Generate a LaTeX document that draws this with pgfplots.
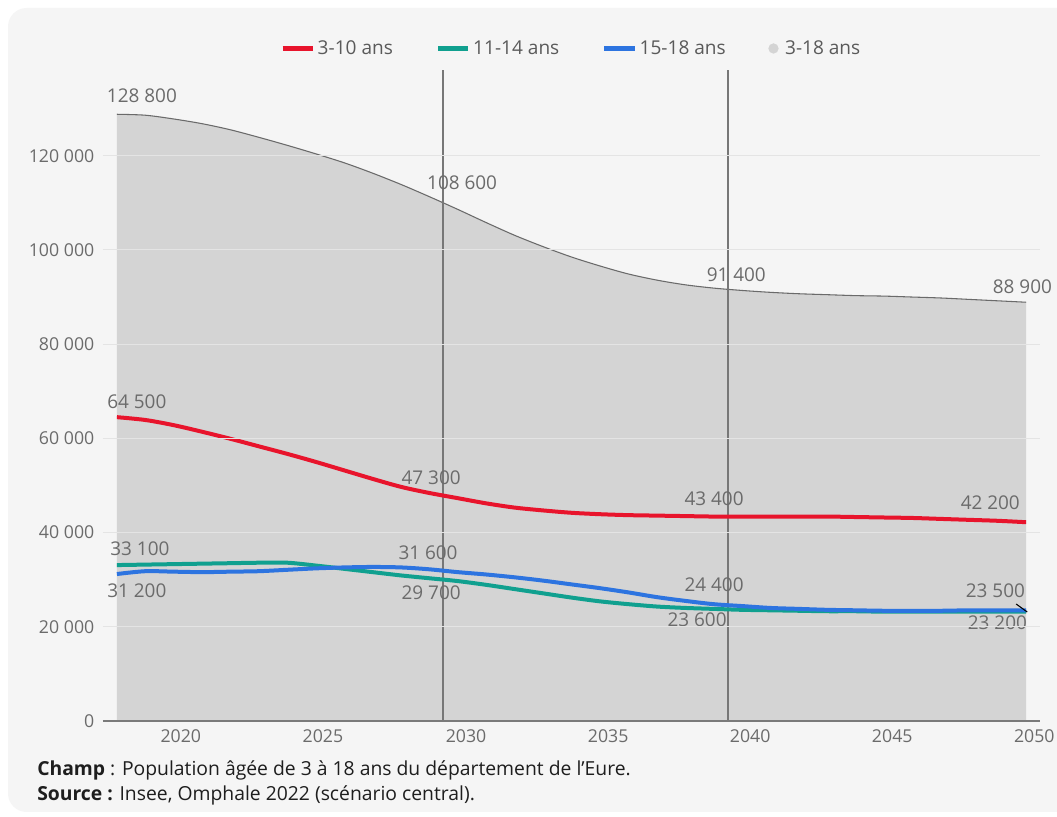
\documentclass[border=0pt]{standalone}
\usepackage{pgfplots}
\pgfplotsset{compat=1.18}
\usepackage{pgfplotstable}
\usepackage{fontspec}
\setmainfont{Open Sans}
\definecolor{redc}{HTML}{E8142C}
\definecolor{tealc}{HTML}{10A08F}
\definecolor{bluec}{HTML}{2D74E0}
\definecolor{areac}{HTML}{D4D4D4}
\definecolor{areaedge}{HTML}{6A6A6A}
\definecolor{panel}{HTML}{F5F5F5}
\definecolor{gridc}{HTML}{E4E4E4}
\definecolor{labc}{HTML}{6B6B6B}
\definecolor{legc}{HTML}{5A5A5A}
\definecolor{axisc}{HTML}{7A7A7A}
\definecolor{vlinec}{HTML}{777777}
\definecolor{footc}{HTML}{1E1E1E}

\pgfplotstableread{
year total r t b
2018 128800 64500 33100 31200
2019 128600 63900 33200 31800
2020 127800 62800 33300 31700
2021 126800 61400 33400 31600
2022 125500 59900 33500 31700
2023 123900 58300 33600 31800
2024 122200 56700 33600 32100
2025 120400 55000 33000 32400
2026 118500 53200 32300 32600
2027 116300 51400 31600 32700
2028 113900 49700 30900 32600
2029 111300 48400 30300 32200
2030 108600 47300 29700 31600
2031 105800 46200 28900 31100
2032 103100 45300 28000 30500
2033 100700 44700 27100 29800
2034 98500 44200 26200 29000
2035 96600 43900 25400 28200
2036 94900 43700 24800 27300
2037 93600 43600 24300 26300
2038 92600 43500 24000 25500
2039 91900 43400 23800 24800
2040 91400 43400 23600 24400
2041 91000 43400 23500 24000
2042 90700 43400 23400 23800
2043 90500 43400 23300 23600
2044 90300 43300 23300 23500
2045 90200 43200 23200 23400
2046 90000 43100 23200 23400
2047 89800 42900 23200 23400
2048 89500 42700 23200 23500
2049 89200 42500 23200 23500
2050 88900 42200 23200 23500
}\datatable

\begin{document}
\begin{tikzpicture}
\useasboundingbox (0,0) rectangle (792.75pt,612.75pt);
\fill[white] (0,0) rectangle (792.75pt,612.75pt);
\begin{scope}
\clip (0,0) rectangle (792.75pt,612.75pt);
\fill[panel, rounded corners=14pt] (6pt,3.75pt) rectangle (830pt,606.75pt);
\end{scope}
\begin{axis}[
  at={(77.25pt,72pt)}, anchor=south west,
  scale only axis, width=702.75pt, height=488.25pt,
  xmin=2017.51, xmax=2050.49, ymin=0, ymax=138200,
  scaled y ticks=false, scaled x ticks=false,
  axis x line*=bottom, axis y line*=left,
  y axis line style={draw=none},
  x axis line style={draw=axisc, line width=1.2pt},
  ytick={0,20000,40000,60000,80000,100000,120000},
  yticklabels={0,20 000,40 000,60 000,80 000,100 000,120 000},
  xtick={2020.25,2025.25,2030.29,2035.29,2040.29,2045.29,2050.29},
  xticklabels={2020,2025,2030,2035,2040,2045,2050},
  major tick length=0pt,
  ymajorgrids, grid style={gridc, line width=0.75pt},
  tick label style={font=\fontsize{13.3}{15}\selectfont, text=labc},
  yticklabel style={xshift=-3pt},
  xticklabel style={yshift=-3pt},
  axis on top,
  clip=false,
  legend columns=4,
  legend style={at={(0.5,1)}, anchor=south, yshift=6pt, draw=none, fill=none,
    font=\fontsize{14.3}{16}\selectfont, text=legc,
    /tikz/every even column/.append style={column sep=30pt}},
]
\addplot[draw=none, fill=areac, forget plot, smooth] table[x=year, y=total] {\datatable} \closedcycle;
\addplot[areaedge, line width=0.8pt, smooth, forget plot] table[x=year, y=total] {\datatable};
\draw[vlinec, line width=0.9pt] (axis cs:2029.48,0) -- (axis cs:2029.48,138200);
\draw[vlinec, line width=0.9pt] (axis cs:2039.51,0) -- (axis cs:2039.51,138200);
\addplot[tealc, line width=3pt, smooth, forget plot] table[x=year, y=t] {\datatable};
\addplot[bluec, line width=3pt, smooth, forget plot] table[x=year, y=b] {\datatable};
\addplot[redc, line width=3pt, smooth, forget plot] table[x=year, y=r] {\datatable};
\draw[black, line width=0.8pt] (axis cs:2049.65,24840) -- (axis cs:2050.04,23140);

\addlegendimage{legend image code/.code={\draw[redc, line width=3.75pt] (0pt,0pt) -- (22.5pt,0pt);}}
\addlegendentry{3-10 ans}
\addlegendimage{legend image code/.code={\draw[tealc, line width=3.75pt] (0pt,0pt) -- (22.5pt,0pt);}}
\addlegendentry{11-14 ans}
\addlegendimage{legend image code/.code={\draw[bluec, line width=3.75pt] (0pt,0pt) -- (22.5pt,0pt);}}
\addlegendentry{15-18 ans}
\addlegendimage{legend image code/.code={\fill[areac] (13pt,0pt) circle (3.6pt); \path (19.5pt,0pt);}}
\addlegendentry{3-18 ans}

\tikzset{dl/.style={font=\fontsize{14.2}{16}\selectfont, text=labc, inner sep=0pt}}
\node[dl] at (axis cs:2018.88,132800) {128 800};
\node[dl] at (axis cs:2030.15,114200) {108 600};
\node[dl] at (axis cs:2039.80,94700) {91 400};
\node[dl] at (axis cs:2049.87,92100) {88 900};
\node[dl] at (axis cs:2018.70,67700) {64 500};
\node[dl] at (axis cs:2029.06,51600) {47 300};
\node[dl] at (axis cs:2039.02,47130) {43 400};
\node[dl] at (axis cs:2048.74,46280) {42 200};
\node[dl] at (axis cs:2018.81,36520) {33 100};
\node[dl] at (axis cs:2028.95,35670) {31 600};
\node[dl] at (axis cs:2039.02,28870) {24 400};
\node[dl] at (axis cs:2048.92,27600) {23 500};
\node[dl] at (axis cs:2018.70,27600) {31 200};
\node[dl] at (axis cs:2029.06,27170) {29 700};
\node[dl] at (axis cs:2038.42,21440) {23 600};
\node[dl] at (axis cs:2048.99,20800) {23 200};
\end{axis}
\node[anchor=base west, inner sep=0pt, text=footc, font=\fontsize{14.5}{16}\selectfont] at (27.75pt,30.75pt) {\textbf{Champ} : Population âgée de 3 à 18 ans du département de l’Eure.};
\node[anchor=base west, inner sep=0pt, text=footc, font=\fontsize{14.5}{16}\selectfont] at (27.75pt,12pt) {\textbf{Source :} Insee, Omphale 2022 (scénario central).};
\end{tikzpicture}
\end{document}
